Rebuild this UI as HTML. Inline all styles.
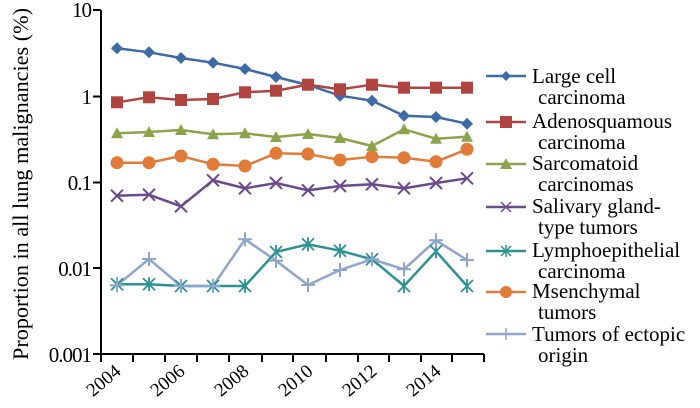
<!DOCTYPE html>
<html><head><meta charset="utf-8"><style>
body{margin:0;background:#fff;}
svg{display:block;}
text{font-family:"Liberation Serif","DejaVu Serif",serif;}
</style></head><body>
<svg width="700" height="408" xmlns="http://www.w3.org/2000/svg" font-family="Liberation Serif, serif">
<g stroke="#000" stroke-width="2" fill="none">
<path d="M101,10 V354 H484"/>
<path d="M93,10H101M93,96.5H101M93,182.5H101M93,268H101M93,354H101"/>
<path d="M101,354v8M133,354v8M165,354v8M197,354v8M229,354v8M262,354v8M293,354v8M326,354v8M358,354v8M389,354v8M421,354v8M452,354v8M484,354v8"/>
</g>
<g font-size="21" text-anchor="end" fill="#000" font-family="Liberation Serif, serif" letter-spacing="-1">
<text x="91" y="17">10</text><text x="91" y="104">1</text><text x="91" y="190">0.1</text><text x="91" y="276">0.01</text><text x="91" y="362">0.001</text>
</g>
<g font-size="19" text-anchor="end" fill="#000" font-family="Liberation Serif, serif">
<text transform="translate(122,373) rotate(-40)">2004</text>
<text transform="translate(186,373) rotate(-40)">2006</text>
<text transform="translate(250,373) rotate(-40)">2008</text>
<text transform="translate(314,373) rotate(-40)">2010</text>
<text transform="translate(378,373) rotate(-40)">2012</text>
<text transform="translate(442,373) rotate(-40)">2014</text>
</g>
<text transform="translate(28,184) rotate(-90)" font-size="22" text-anchor="middle" font-family="Liberation Serif, serif" textLength="352" lengthAdjust="spacingAndGlyphs">Proportion in all lung malignancies (%)</text>
<g stroke-width="2.5" fill="none">
<polyline stroke="#3e6aa6" points="117,48.3 149,52.3 181,58 213,62.7 245,69 276,77 308,85 340,95.7 372,100.7 404,115.7 436,117 467,123.7"/>
<polyline stroke="#b04440" points="117,102.3 149,97.3 181,100 213,99 245,92.3 276,90.7 308,84.7 340,89.3 372,84.7 404,87.7 436,87.7 467,87.7"/>
<polyline stroke="#8ba34a" points="117,133.3 149,132 181,130 213,134.3 245,133.3 276,137 308,134 340,138 372,146 404,129.3 436,138.7 467,136.7"/>
<polyline stroke="#e07b39" points="117,162.7 149,162.7 181,156 213,164.3 245,166 276,153.3 308,154 340,160 372,156.7 404,157.7 436,161.7 467,149.3"/>
<polyline stroke="#6a4a8c" points="117,195.7 149,194.7 181,206.3 213,180.3 245,188.3 276,183 308,190.3 340,186 372,184.3 404,188.3 436,183 467,178.3"/>
<polyline stroke="#2e9295" points="117,284.3 149,284.3 181,286 213,286 245,286 276,252 308,244.3 340,250.7 372,259.3 404,286 436,251.3 467,286"/>
<polyline stroke="#8fa5cc" points="117,285.3 149,259 181,286 213,286 245,239.3 276,260.7 308,285 340,270 372,259.3 404,269.3 436,240.3 467,260"/>
</g>
<g fill="#3e6aa6">
<path d="M0,-6L6,0L0,6L-6,0Z" transform="translate(117,48.3)"/>
<path d="M0,-6L6,0L0,6L-6,0Z" transform="translate(149,52.3)"/><path d="M0,-6L6,0L0,6L-6,0Z" transform="translate(181,58)"/><path d="M0,-6L6,0L0,6L-6,0Z" transform="translate(213,62.7)"/><path d="M0,-6L6,0L0,6L-6,0Z" transform="translate(245,69)"/><path d="M0,-6L6,0L0,6L-6,0Z" transform="translate(276,77)"/><path d="M0,-6L6,0L0,6L-6,0Z" transform="translate(308,85)"/><path d="M0,-6L6,0L0,6L-6,0Z" transform="translate(340,95.7)"/><path d="M0,-6L6,0L0,6L-6,0Z" transform="translate(372,100.7)"/><path d="M0,-6L6,0L0,6L-6,0Z" transform="translate(404,115.7)"/><path d="M0,-6L6,0L0,6L-6,0Z" transform="translate(436,117)"/><path d="M0,-6L6,0L0,6L-6,0Z" transform="translate(467,123.7)"/>
</g>
<g fill="#b04440">
<rect x="111" y="96.3" width="12" height="12"/><rect x="143" y="91.3" width="12" height="12"/><rect x="175" y="94" width="12" height="12"/><rect x="207" y="93" width="12" height="12"/><rect x="239" y="86.3" width="12" height="12"/><rect x="270" y="84.7" width="12" height="12"/><rect x="302" y="78.7" width="12" height="12"/><rect x="334" y="83.3" width="12" height="12"/><rect x="366" y="78.7" width="12" height="12"/><rect x="398" y="81.7" width="12" height="12"/><rect x="430" y="81.7" width="12" height="12"/><rect x="461" y="81.7" width="12" height="12"/>
</g>
<g fill="#8ba34a">
<path d="M111,138.3h12l-6,-11z"/><path d="M143,137h12l-6,-11z"/><path d="M175,135h12l-6,-11z"/><path d="M207,139.3h12l-6,-11z"/><path d="M239,138.3h12l-6,-11z"/><path d="M270,142h12l-6,-11z"/><path d="M302,139h12l-6,-11z"/><path d="M334,143h12l-6,-11z"/><path d="M366,151h12l-6,-11z"/><path d="M398,134.3h12l-6,-11z"/><path d="M430,143.7h12l-6,-11z"/><path d="M461,141.7h12l-6,-11z"/>
</g>
<g fill="#e07b39">
<circle cx="117" cy="162.7" r="6.5"/><circle cx="149" cy="162.7" r="6.5"/><circle cx="181" cy="156" r="6.5"/><circle cx="213" cy="164.3" r="6.5"/><circle cx="245" cy="166" r="6.5"/><circle cx="276" cy="153.3" r="6.5"/><circle cx="308" cy="154" r="6.5"/><circle cx="340" cy="160" r="6.5"/><circle cx="372" cy="156.7" r="6.5"/><circle cx="404" cy="157.7" r="6.5"/><circle cx="436" cy="161.7" r="6.5"/><circle cx="467" cy="149.3" r="6.5"/>
</g>
<g stroke="#6a4a8c" stroke-width="2" fill="none">
<path d="M111,189.7l12,12m0,-12l-12,12"/><path d="M143,188.7l12,12m0,-12l-12,12"/><path d="M175,200.3l12,12m0,-12l-12,12"/><path d="M207,174.3l12,12m0,-12l-12,12"/><path d="M239,182.3l12,12m0,-12l-12,12"/><path d="M270,177l12,12m0,-12l-12,12"/><path d="M302,184.3l12,12m0,-12l-12,12"/><path d="M334,180l12,12m0,-12l-12,12"/><path d="M366,178.3l12,12m0,-12l-12,12"/><path d="M398,182.3l12,12m0,-12l-12,12"/><path d="M430,177l12,12m0,-12l-12,12"/><path d="M461,172.3l12,12m0,-12l-12,12"/>
</g>
<g stroke="#2e9295" stroke-width="1.8" fill="none">
<path d="M111,278.3l12,12m0,-12l-12,12m6,-13v14"/><path d="M143,278.3l12,12m0,-12l-12,12m6,-13v14"/><path d="M175,280l12,12m0,-12l-12,12m6,-13v14"/><path d="M207,280l12,12m0,-12l-12,12m6,-13v14"/><path d="M239,280l12,12m0,-12l-12,12m6,-13v14"/><path d="M270,246l12,12m0,-12l-12,12m6,-13v14"/><path d="M302,238.3l12,12m0,-12l-12,12m6,-13v14"/><path d="M334,244.7l12,12m0,-12l-12,12m6,-13v14"/><path d="M366,253.3l12,12m0,-12l-12,12m6,-13v14"/><path d="M398,280l12,12m0,-12l-12,12m6,-13v14"/><path d="M430,245.3l12,12m0,-12l-12,12m6,-13v14"/><path d="M461,280l12,12m0,-12l-12,12m6,-13v14"/>
</g>
<g stroke="#8fa5cc" stroke-width="2" fill="none">
<path d="M110,285.3h14m-7,-7v14"/><path d="M142,259h14m-7,-7v14"/><path d="M174,286h14m-7,-7v14"/><path d="M206,286h14m-7,-7v14"/><path d="M238,239.3h14m-7,-7v14"/><path d="M269,260.7h14m-7,-7v14"/><path d="M301,285h14m-7,-7v14"/><path d="M333,270h14m-7,-7v14"/><path d="M365,259.3h14m-7,-7v14"/><path d="M397,269.3h14m-7,-7v14"/><path d="M429,240.3h14m-7,-7v14"/><path d="M460,260h14m-7,-7v14"/>
</g>
<g stroke-width="2.5">
<line x1="486" y1="76" x2="526" y2="76" stroke="#3e6aa6"/>
<line x1="486" y1="122" x2="526" y2="122" stroke="#b04440"/>
<line x1="486" y1="164" x2="526" y2="164" stroke="#8ba34a"/>
<line x1="486" y1="207" x2="526" y2="207" stroke="#6a4a8c"/>
<line x1="486" y1="251" x2="526" y2="251" stroke="#2e9295"/>
<line x1="486" y1="292" x2="526" y2="292" stroke="#e07b39"/>
<line x1="486" y1="334" x2="526" y2="334" stroke="#8fa5cc"/>
</g>
<path d="M506,71L511,76L506,81L501,76Z" fill="#3e6aa6"/>
<rect x="500" y="116" width="12" height="12" fill="#b04440"/>
<path d="M500,169h12l-6,-11z" fill="#8ba34a"/>
<path d="M501,202l10,10m0,-10l-10,10" stroke="#6a4a8c" stroke-width="1.5"/>
<path d="M501,246l10,10m0,-10l-10,10m5,-11v12" stroke="#2e9295" stroke-width="1.5"/>
<circle cx="506" cy="292" r="6" fill="#e07b39"/>
<path d="M506,328v12" stroke="#8fa5cc" stroke-width="1.5"/>
<g font-size="21" fill="#000" font-family="Liberation Serif, serif">
<text x="532" y="83">Large cell</text><text x="538" y="104">carcinoma</text>
<text x="532" y="128">Adenosquamous</text><text x="538" y="149">carcinoma</text>
<text x="532" y="170">Sarcomatoid</text><text x="538" y="191">carcinomas</text>
<text x="532" y="213">Salivary gland-</text><text x="538" y="234">type tumors</text>
<text x="532" y="257">Lymphoepithelial</text><text x="538" y="278">carcinoma</text>
<text x="532" y="298">Msenchymal</text><text x="538" y="319">tumors</text>
<text x="532" y="341">Tumors of ectopic</text><text x="538" y="362">origin</text>
</g>
</svg>
</body></html>
